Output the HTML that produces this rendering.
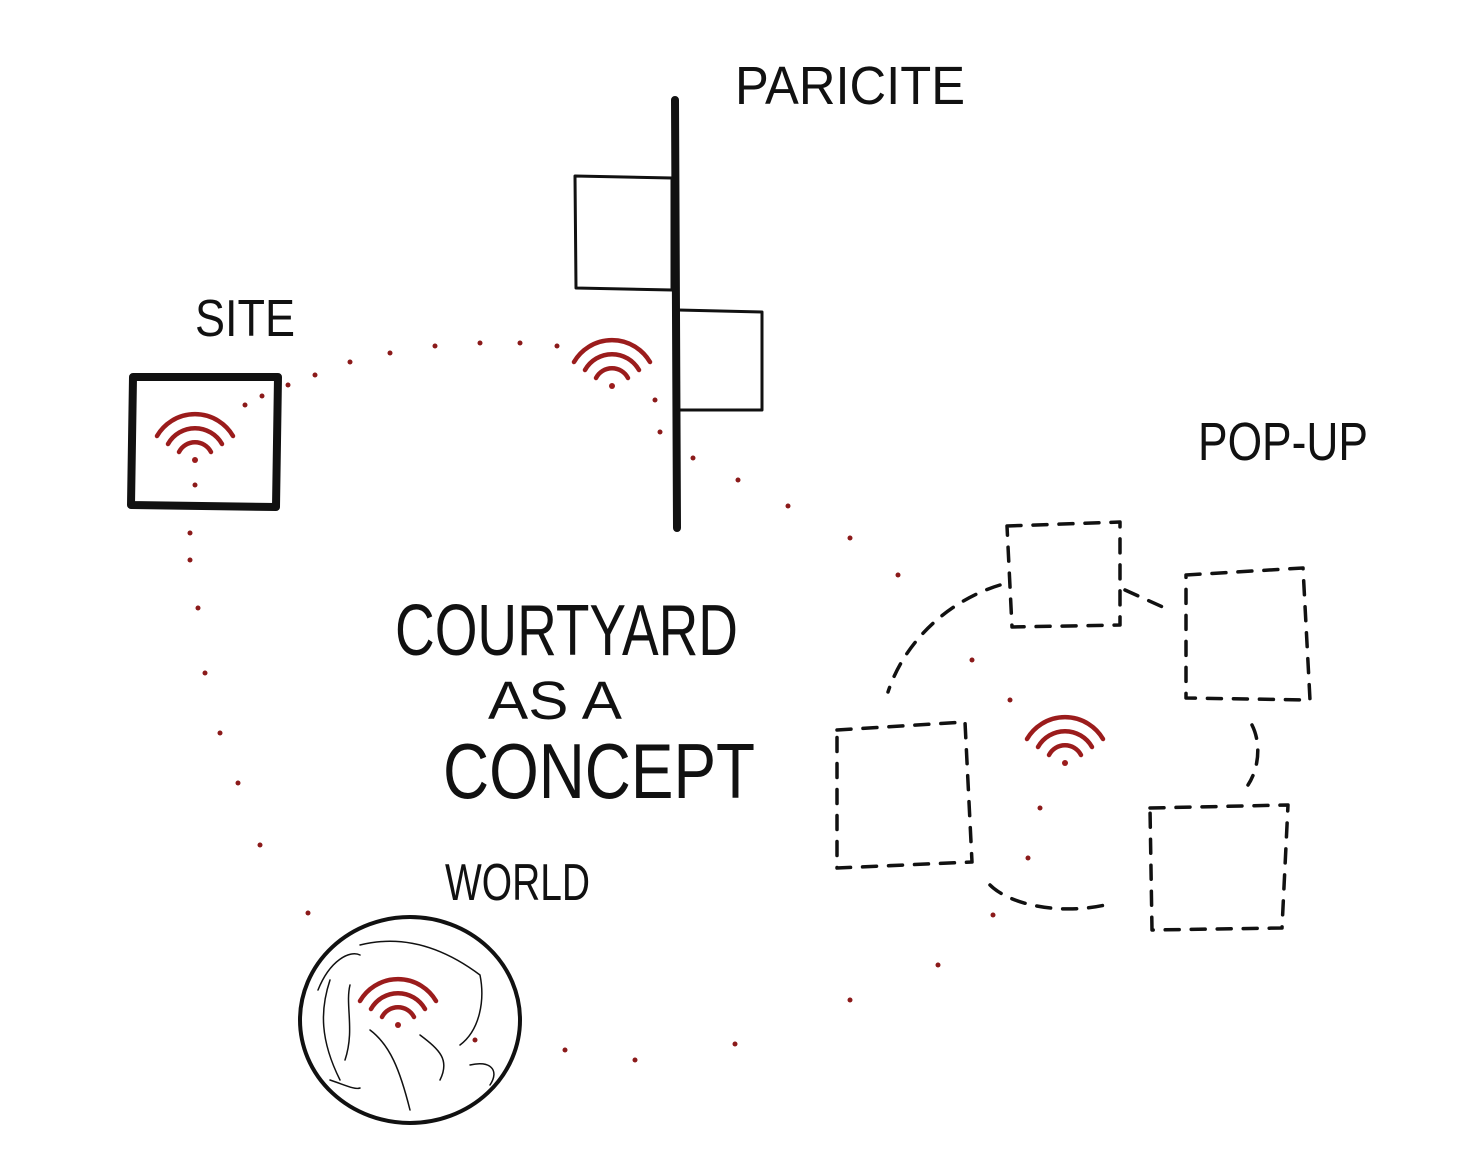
<!DOCTYPE html>
<html><head><meta charset="utf-8"><style>
html,body{margin:0;padding:0;background:#fff;}
svg{display:block}
text{font-family:"Liberation Sans",sans-serif;fill:#111;}
</style></head><body>
<svg width="1482" height="1166" viewBox="0 0 1482 1166" xmlns="http://www.w3.org/2000/svg">
<rect width="1482" height="1166" fill="#fff"/>
<g stroke="#111" fill="none" stroke-linecap="round" stroke-linejoin="round">
  <!-- paricite -->
  <line x1="675" y1="100" x2="677" y2="528" stroke-width="8"/>
  <path d="M575 176 L672 178 L672 290 L576 288 Z" stroke-width="3"/>
  <path d="M678 310 L762 312 L762 410 L678 410" stroke-width="3"/>
  <!-- site -->
  <path d="M133 377 L278 377 L276 507 L131 505 Z" stroke-width="8"/>
  <!-- globe -->
  <ellipse cx="410" cy="1020" rx="110" ry="103" stroke-width="4"/>
  <path d="M318 990 C330 960 350 950 360 955 M330 980 C320 1010 320 1040 340 1080 M350 985 C345 1005 355 1030 345 1060 M360 945 C400 935 440 945 480 975 C485 1000 480 1030 460 1045 M370 1030 C390 1045 400 1070 410 1110 M420 1035 C440 1050 450 1060 440 1080 M470 1065 C490 1060 500 1070 490 1085 M330 1080 C345 1085 355 1090 360 1088" stroke-width="1.5"/>
  <!-- dashed pop-up boxes -->
  <g stroke-width="3.5" stroke-dasharray="14 12">
    <path d="M1007 526 L1120 522 L1120 625 L1012 627 Z"/>
    <path d="M1186 575 L1303 568 L1310 700 L1186 698 Z"/>
    <path d="M837 730 L965 722 L972 862 L837 868 Z"/>
    <path d="M1150 808 L1288 805 L1282 928 L1152 930 Z"/>
    <path d="M1000 585 C950 600 905 640 888 692"/>
    <path d="M1125 590 L1165 608"/>
    <path d="M1252 725 C1262 745 1258 770 1248 785"/>
    <path d="M990 885 C1010 905 1060 915 1105 905"/>
  </g>
</g>
<!-- red dots -->
<g fill="#8b1a1a">
  <circle cx="245" cy="405" r="2.5"/><circle cx="262" cy="396" r="2.5"/><circle cx="288" cy="385" r="2.5"/>
  <circle cx="315" cy="375" r="2.5"/><circle cx="350" cy="362" r="2.5"/><circle cx="390" cy="353" r="2.5"/>
  <circle cx="435" cy="346" r="2.5"/><circle cx="480" cy="343" r="2.5"/><circle cx="520" cy="343" r="2.5"/>
  <circle cx="557" cy="346" r="2.5"/><circle cx="655" cy="400" r="2.5"/><circle cx="660" cy="432" r="2.5"/>
  <circle cx="693" cy="458" r="2.5"/><circle cx="738" cy="480" r="2.5"/><circle cx="788" cy="506" r="2.5"/>
  <circle cx="850" cy="538" r="2.5"/><circle cx="898" cy="575" r="2.5"/><circle cx="972" cy="660" r="2.5"/>
  <circle cx="1010" cy="700" r="2.5"/><circle cx="1040" cy="808" r="2.5"/><circle cx="1028" cy="858" r="2.5"/>
  <circle cx="993" cy="915" r="2.5"/><circle cx="938" cy="965" r="2.5"/><circle cx="850" cy="1000" r="2.5"/>
  <circle cx="735" cy="1044" r="2.5"/><circle cx="635" cy="1060" r="2.5"/><circle cx="565" cy="1050" r="2.5"/>
  <circle cx="475" cy="1040" r="2.5"/>
  <circle cx="195" cy="485" r="2.5"/><circle cx="190" cy="533" r="2.5"/><circle cx="190" cy="560" r="2.5"/>
  <circle cx="198" cy="608" r="2.5"/><circle cx="205" cy="673" r="2.5"/><circle cx="220" cy="733" r="2.5"/>
  <circle cx="238" cy="783" r="2.5"/><circle cx="260" cy="845" r="2.5"/><circle cx="308" cy="913" r="2.5"/>
</g>
<!-- wifi icons -->
<defs>
  <g id="wifi" fill="none" stroke="#9b1c1c" stroke-width="4.5" stroke-linecap="round">
    <path d="M-38 -6 A44 44 0 0 1 38 -6"/>
    <path d="M-27 2 A31 31 0 0 1 27 2"/>
    <path d="M-16 10 A18 18 0 0 1 16 10"/>
    <circle cx="0" cy="18" r="3" fill="#9b1c1c" stroke="none"/>
  </g>
</defs>
<use href="#wifi" x="195" y="442"/>
<use href="#wifi" x="612" y="368"/>
<use href="#wifi" x="1065" y="745"/>
<use href="#wifi" x="398" y="1007"/>
<!-- labels -->
<text x="735" y="104" font-size="54" textLength="230" lengthAdjust="spacingAndGlyphs">PARICITE</text>
<text x="195" y="336" font-size="52" textLength="100" lengthAdjust="spacingAndGlyphs">SITE</text>
<text x="1198" y="460" font-size="54" textLength="170" lengthAdjust="spacingAndGlyphs">POP-UP</text>
<text x="395" y="655" font-size="72" textLength="343" lengthAdjust="spacingAndGlyphs">COURTYARD</text>
<text x="488" y="719" font-size="54" textLength="134" lengthAdjust="spacingAndGlyphs">AS A</text>
<text x="443" y="798" font-size="78" textLength="312" lengthAdjust="spacingAndGlyphs">CONCEPT</text>
<text x="445" y="900" font-size="52" textLength="145" lengthAdjust="spacingAndGlyphs">WORLD</text>
</svg>
</body></html>
